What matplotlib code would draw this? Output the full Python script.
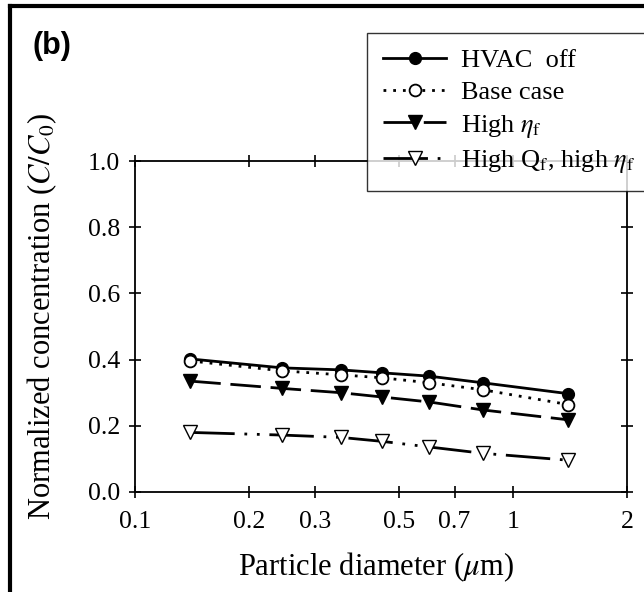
import matplotlib
matplotlib.use("Agg")
import matplotlib.pyplot as plt
from matplotlib.lines import Line2D

plt.rcParams['font.family'] = ['Liberation Serif', 'DejaVu Serif']
plt.rcParams['mathtext.fontset'] = 'stix'

# Data
diameter = [0.14, 0.245, 0.35, 0.45, 0.6, 0.83, 1.4]
hvac_off = [0.402, 0.375, 0.369, 0.360, 0.350, 0.330, 0.297]
base_case = [0.396, 0.366, 0.354, 0.345, 0.330, 0.309, 0.264]
high_eta = [0.335, 0.313, 0.300, 0.287, 0.272, 0.248, 0.218]
high_qf_eta = [0.180, 0.172, 0.165, 0.153, 0.136, 0.117, 0.096]
labels = ["HVAC  off", "Base case", r"High $\eta_\mathrm{f}$",
          r"High Q$_\mathrm{f}$, high $\eta_\mathrm{f}$"]
xticks = [0.1, 0.2, 0.3, 0.5, 0.7, 1, 2]
xticklabels = ["0.1", "0.2", "0.3", "0.5", "0.7", "1", "2"]
yticks = [0.0, 0.2, 0.4, 0.6, 0.8, 1.0]

W, H = 644, 592
fig = plt.figure(figsize=(W / 100, H / 100), dpi=100)
ax = fig.add_axes([135 / W, 1 - 492 / H, (627 - 135) / W, (492 - 161) / H])

ms = 8.5
l1, = ax.plot(diameter, hvac_off, '-', color='black', lw=2.0, marker='o',
              ms=ms, mfc='black', mec='black')
l2, = ax.plot(diameter, base_case, color='black', lw=2.0, ls=(0, (1, 2.5)),
              marker='o', ms=ms, mfc='white', mec='black', mew=1.3)
l3, = ax.plot(diameter, high_eta, color='black', lw=2.0, ls=(0, (11, 3.5)),
              marker='v', ms=ms + 1, mfc='black', mec='black')
l4, = ax.plot(diameter, high_qf_eta, color='black', lw=2.0,
              ls=(0, (16, 3.5, 1, 3.5, 1, 3.5)),
              marker='v', ms=ms + 1, mfc='white', mec='black', mew=1.0)

ax.set_xscale('log')
ax.set_xlim(0.1, 2)
ax.set_ylim(0, 1.0)
ax.set_xticks(xticks)
ax.set_xticklabels(xticklabels)
ax.xaxis.set_minor_locator(matplotlib.ticker.NullLocator())
ax.set_yticks(yticks)
ax.set_yticklabels([f"{v:.1f}" for v in yticks])
ax.tick_params(direction='inout', length=8, width=1.2, labelsize=18.5,
               top=True, right=True)
ax.tick_params(axis='x', pad=9.5)
ax.tick_params(axis='y', pad=6.5)
for sp in ax.spines.values():
    sp.set_linewidth(1.3)

ax.set_xlabel(r"Particle diameter ($\mu$m)", fontsize=22)
ax.set_ylabel(r"Normalized concentration ($C/C_0$)", fontsize=22)
ax.xaxis.label.set_va('center')
ax.yaxis.label.set_va('center')
ax.xaxis.set_label_coords(0.49, (492 - 567) / 331)
ax.yaxis.set_label_coords((42 - 135) / 492, 0.53)

leg = fig.legend([l1, l2, l3, l4], labels, loc='upper left',
                 bbox_to_anchor=(367 / W, 1 - 33 / H), fontsize=19,
                 frameon=True, fancybox=False, edgecolor='black',
                 handlelength=2.4, handletextpad=0.55, labelspacing=0.32,
                 borderpad=0.6, borderaxespad=0)
leg.get_frame().set_linewidth(1.0)

fig.text(32 / W, 1 - 46 / H, "(b)", fontsize=22, fontweight='bold',
         family='Liberation Sans', va='center', ha='left')

# figure border (left and top)
x0, y0 = 10 / W, 1 - 6 / H
fig.add_artist(Line2D([x0, x0], [0, y0], color='black', lw=3,
                      transform=fig.transFigure))
fig.add_artist(Line2D([x0, 1], [y0, y0], color='black', lw=3,
                      transform=fig.transFigure))

fig.savefig("out.png", dpi=100)
